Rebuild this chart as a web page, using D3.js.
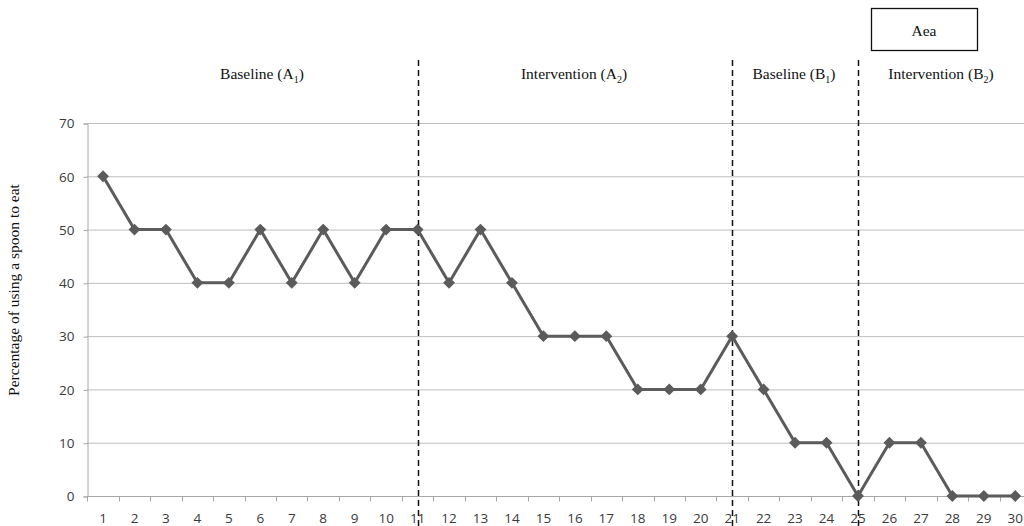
<!DOCTYPE html>
<html><head><meta charset="utf-8">
<script src="https://cdn.jsdelivr.net/npm/d3@7"></script>
<style>body{margin:0;background:#fff;}svg{display:block;}</style>
</head><body>
<svg id="c" width="1024" height="526"></svg>
<script>
const sessions = d3.range(1, 31).map(String);
const values = [60,50,50,40,40,50,40,50,40,50,50,40,50,40,30,30,30,20,20,20,30,20,10,10,0,10,10,0,0,0];
const yTicks = [0,10,20,30,40,50,60,70];
const phaseLines = ["11","21","25"];
const phaseLabels = [
  {name:"Baseline", sub:"1", letter:"A"},
  {name:"Intervention", sub:"2", letter:"A"},
  {name:"Baseline", sub:"1", letter:"B"},
  {name:"Intervention", sub:"2", letter:"B"}
];
const boxText = "Aea";
const yTitle = "Percentage of using a spoon to eat";

const svg = d3.select("#c");
const x = d3.scaleBand().domain(sessions).range([87.3, 1031]);
const y = d3.scaleLinear().domain([0,70]).range([496,123]);
const cx = d => x(d) + x.bandwidth()/2;

// gridlines
svg.append("g").selectAll("line").data(yTicks.filter(t=>t>0)).join("line")
  .attr("x1", 87).attr("x2", 1024).attr("y1", d=>y(d)+0.5).attr("y2", d=>y(d)+0.5)
  .attr("stroke", "#bdbdbd").attr("stroke-width", 1);

// y axis
const ya = svg.append("g").attr("transform","translate(87.5,0.5)")
  .call(d3.axisLeft(y).tickValues(yTicks).tickSize(4).tickPadding(9));
ya.select(".domain").attr("stroke","#a6a6a6");
ya.selectAll(".tick line").attr("stroke","#a6a6a6");
ya.selectAll("text").attr("font-family","'Open Sans', sans-serif").attr("font-size","13.5px").attr("fill","#3a3a3a");

// x axis
const xa = svg.append("g").attr("transform","translate(0,496.5)")
  .call(d3.axisBottom(x).tickSize(0).tickPadding(17));
xa.select(".domain").remove();
xa.append("line").attr("x1",87).attr("x2",1024).attr("stroke","#a6a6a6");
xa.selectAll("text").attr("font-family","'Open Sans', sans-serif").attr("font-size","13.5px").attr("fill","#3a3a3a");
xa.selectAll(".bt").data(sessions).join("line").attr("class","bt")
  .attr("x1", d=>Math.round(x(d))+0.5).attr("x2", d=>Math.round(x(d))+0.5).attr("y1",0).attr("y2",5)
  .attr("stroke","#a6a6a6");

// phase lines
svg.append("g").selectAll("line").data(phaseLines).join("line")
  .attr("x1", d=>Math.round(cx(d))+0.5).attr("x2", d=>Math.round(cx(d))+0.5)
  .attr("y1", 60).attr("y2", 526)
  .attr("stroke","#111").attr("stroke-width",1.5).attr("stroke-dasharray","6,4");

// data line
const line = d3.line().x((d,i)=>cx(sessions[i])).y(d=>y(d));
svg.append("path").datum(values).attr("d", line)
  .attr("fill","none").attr("stroke","#5b5b5b").attr("stroke-width",3).attr("stroke-linejoin","round");
svg.append("g").selectAll("path").data(values).join("path")
  .attr("d", d3.symbol().type(d3.symbolDiamond2).size(90))
  .attr("transform",(d,i)=>`translate(${cx(sessions[i])},${y(d)})`)
  .attr("fill","#5b5b5b");

// phase labels
const pl = svg.append("g").attr("font-family","'Liberation Serif', 'Times New Roman', serif")
  .attr("font-size","15.5px").attr("fill","#111");
const centers = [262, 574, 794, 941];
phaseLabels.forEach((p,i)=>{
  const t = pl.append("text").attr("x", centers[i]).attr("y", 79).attr("text-anchor","middle");
  t.append("tspan").text(p.name + " (" + p.letter);
  t.append("tspan").attr("font-size","10px").attr("dy",4).text(p.sub);
  t.append("tspan").attr("dy",-4).text(")");
});

// box
svg.append("rect").attr("x",871.5).attr("y",8.5).attr("width",106).attr("height",42)
  .attr("fill","#fff").attr("stroke","#111").attr("stroke-width",1.3);
svg.append("text").attr("x",924).attr("y",36).attr("text-anchor","middle")
  .attr("font-family","'Liberation Serif', serif").attr("font-size","15.5px").attr("fill","#111").text(boxText);

// y title
svg.append("text").attr("transform","translate(19,290) rotate(-90)").attr("text-anchor","middle")
  .attr("font-family","'Liberation Serif', serif").attr("font-size","15.5px").attr("fill","#111").text(yTitle);
</script>
</body></html>
